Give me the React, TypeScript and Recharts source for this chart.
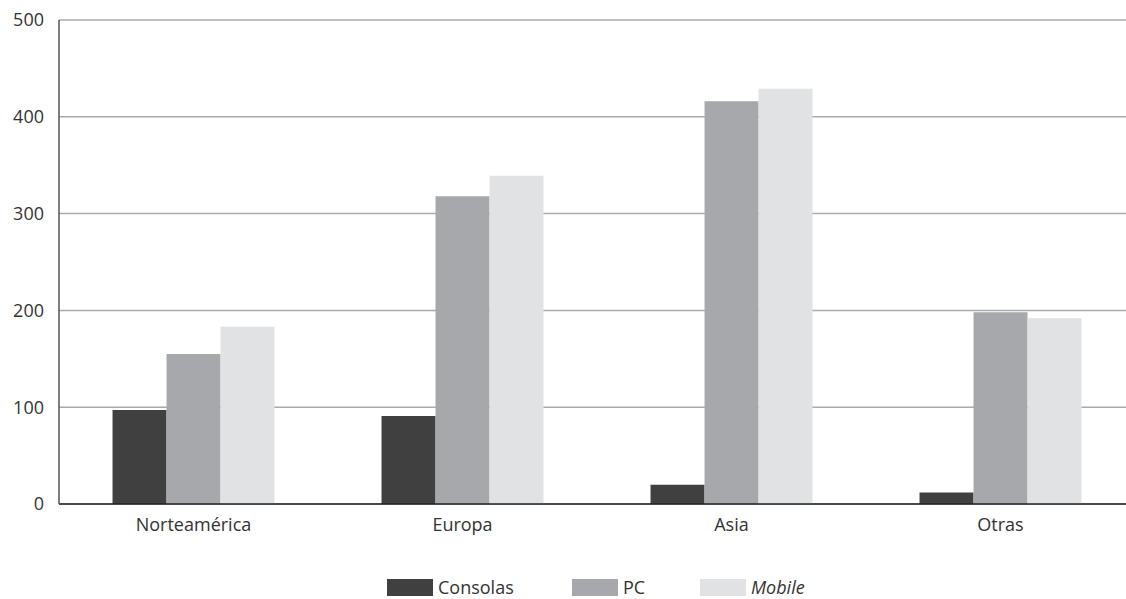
import { BarChart, Bar, XAxis, YAxis, CartesianGrid, Legend } from 'recharts'

const regions = ['Norteamérica', 'Europa', 'Asia', 'Otras']
const consolas = [97, 91, 20, 12]
const pc = [155, 318, 416, 198]
const mobile = [183, 339, 429, 192]
const yTicks = [0, 100, 200, 300, 400, 500]

const data = regions.map((region, i) => ({
  region,
  consolas: consolas[i],
  pc: pc[i],
  mobile: mobile[i],
}))

const series = [
  { key: 'consolas', name: 'Consolas', color: '#404040', italic: false, width: 185 },
  { key: 'pc', name: 'PC', color: '#a7a8ab', italic: false, width: 128 },
  { key: 'mobile', name: 'Mobile', color: '#e1e2e4', italic: true, width: 110 },
]

const font = '"Open Sans", Lato, sans-serif'

function LegendBox() {
  return (
    <div style={{ display: 'flex', paddingLeft: 387, paddingTop: 35, fontFamily: font, fontSize: 18, color: '#333', lineHeight: '17px' }}>
      {series.map((s) => (
        <div key={s.key} style={{ display: 'flex', alignItems: 'center', width: s.width }}>
          <span style={{ display: 'inline-block', width: 46, height: 17, background: s.color, marginRight: 5 }} />
          <span style={{ fontStyle: s.italic ? 'italic' : 'normal' }}>{s.name}</span>
        </div>
      ))}
    </div>
  )
}

export default function App() {
  return (
    <div style={{ position: 'absolute', left: 0, top: 0, background: '#fff' }}>
      <BarChart
        width={1126}
        height={599}
        data={data}
        margin={{ top: 20, right: -9, left: 0, bottom: 0 }}
        barCategoryGap="19.9%"
        barGap={0}
      >
        <CartesianGrid vertical={false} stroke="#aaaaaa" strokeWidth={1.5} />
        <XAxis
          dataKey="region"
          height={40}
          tickLine={false}
          tickSize={0}
          tickMargin={14}
          axisLine={{ stroke: '#222', strokeWidth: 1.5 }}
          tick={{ fill: '#333', fontSize: 18, fontFamily: font }}
        />
        <YAxis
          width={59}
          domain={[0, 500]}
          ticks={yTicks}
          tickLine={false}
          tickSize={0}
          tickMargin={15}
          axisLine={{ stroke: '#555', strokeWidth: 1.5 }}
          tick={{ fill: '#333', fontSize: 18, fontFamily: font }}
        />
        <Legend verticalAlign="bottom" height={55} content={() => <LegendBox />} />
        {series.map((s) => (
          <Bar key={s.key} dataKey={s.key} name={s.name} fill={s.color} isAnimationActive={false} />
        ))}
      </BarChart>
    </div>
  )
}
